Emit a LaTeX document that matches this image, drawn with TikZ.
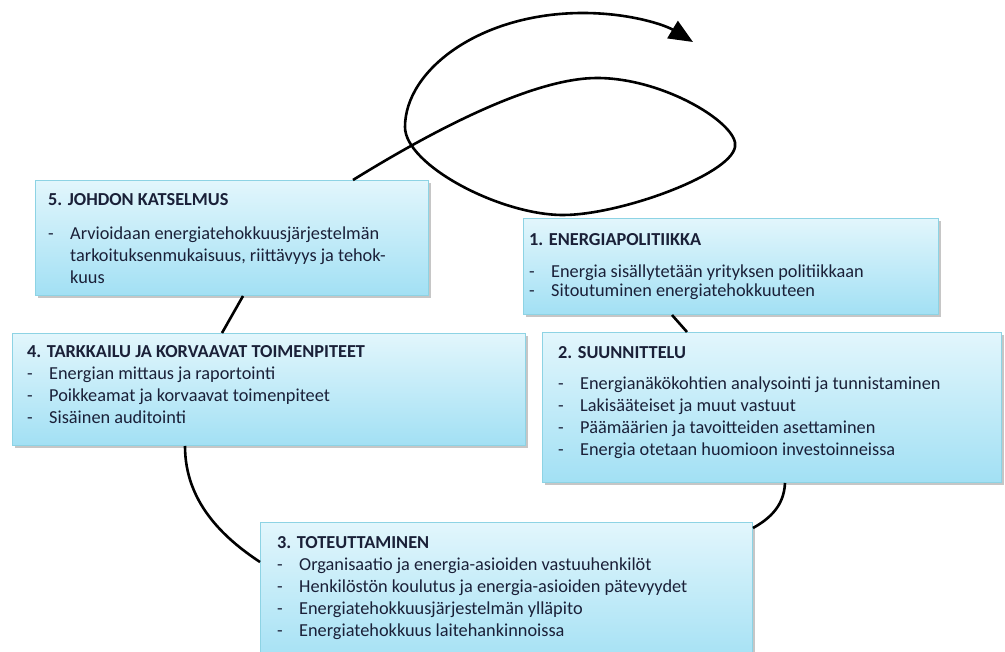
\documentclass[tikz,border=0pt]{standalone}
\usepackage{fontspec}
\setmainfont{Carlito}
\usetikzlibrary{arrows.meta,shadows}

\definecolor{reuna}{HTML}{8DD3E4}
\definecolor{ylavari}{HTML}{E2F6FC}
\definecolor{alavari}{HTML}{A2E0F4}
\definecolor{tekstivari}{HTML}{1A2038}

\tikzset{
  laatikko/.style={draw=reuna, line width=1pt, top color=ylavari, bottom color=alavari,
    drop shadow={opacity=0.45, shadow xshift=2pt, shadow yshift=-3pt},
    anchor=north west, inner sep=0pt},
  teksti/.style={anchor=north west, inner sep=0pt, align=left, text=tekstivari,
    font=\fontsize{18.3}{22}\selectfont},
  kaari/.style={line width=2.6pt, black},
}
\newcommand{\kohta}[1]{\makebox[22pt][l]{-}#1}

\begin{document}
\begin{tikzpicture}[x=1pt,y=-1pt]
\clip (0,0) rectangle (1005,652);
% laatikot
\node[laatikko, minimum width=393pt, minimum height=115pt] (katselmus) at (35,180) {};
\node[laatikko, minimum width=415pt, minimum height=96pt] (politiikka) at (523,218) {};
\node[laatikko, minimum width=513pt, minimum height=112pt] (tarkkailu) at (12,333) {};
\node[laatikko, minimum width=459pt, minimum height=150pt] (suunnittelu) at (542,332) {};
\node[laatikko, minimum width=492pt, minimum height=145pt] (toteuttaminen) at (260,522) {};
% tekstit
\node[teksti] (katselmusteksti) at ([xshift=13pt,yshift=-13pt]katselmus.north west)
  {\textbf{5. JOHDON KATSELMUS}\\[12pt]
   \kohta{Arvioidaan energiatehokkuusjärjestelmän}\\
   \hspace*{22pt}tarkoituksenmukaisuus, riittävyys ja tehok-\\
   \hspace*{22pt}kuus};
\node[teksti, font=\fontsize{18.3}{19}\selectfont] (politiikkateksti) at ([xshift=6pt,yshift=-15pt]politiikka.north west)
  {\textbf{1. ENERGIAPOLITIIKKA}\\[13pt]
   \kohta{Energia sisällytetään yrityksen politiikkaan}\\
   \kohta{Sitoutuminen energiatehokkuuteen}};
\node[teksti] (tarkkailuteksti) at ([xshift=15pt,yshift=-12pt]tarkkailu.north west)
  {\textbf{4. TARKKAILU JA KORVAAVAT TOIMENPITEET}\\
   \kohta{Energian mittaus ja raportointi}\\
   \kohta{Poikkeamat ja korvaavat toimenpiteet}\\
   \kohta{Sisäinen auditointi}};
\node[teksti] (suunnitteluteksti) at ([xshift=16pt,yshift=-14pt]suunnittelu.north west)
  {\textbf{2. SUUNNITTELU}\\[9pt]
   \kohta{Energianäkökohtien analysointi ja tunnistaminen}\\
   \kohta{Lakisääteiset ja muut vastuut}\\
   \kohta{Päämäärien ja tavoitteiden asettaminen}\\
   \kohta{Energia otetaan huomioon investoinneissa}};
\node[teksti] (toteuttaminenteksti) at ([xshift=17pt,yshift=-14pt]toteuttaminen.north west)
  {\textbf{3. TOTEUTTAMINEN}\\
   \kohta{Organisaatio ja energia-asioiden vastuuhenkilöt}\\
   \kohta{Henkilöstön koulutus ja energia-asioiden pätevyydet}\\
   \kohta{Energiatehokkuusjärjestelmän ylläpito}\\
   \kohta{Energiatehokkuus laitehankinnoissa}};
% yhdysviivat
\draw[kaari] ([xshift=149pt]politiikka.south west) -- ([xshift=145pt]suunnittelu.north west);
\draw[kaari] ([xshift=243pt]suunnittelu.south west) .. controls +(-1,22) and +(18,-10) .. ([yshift=-6pt]toteuttaminen.north east);
\draw[kaari] ([xshift=173pt]tarkkailu.south west) .. controls +(0,55) and +(-38,-25) .. ([yshift=-40pt]toteuttaminen.north west);
\draw[kaari] ([xshift=208pt]katselmus.south west) -- ([xshift=210pt]tarkkailu.north west);
% silmukka
\coordinate (karki) at (693,42);
\draw[kaari, -{Triangle[length=24pt,width=20pt]}] ([xshift=318pt]katselmus.north west)
  .. controls (450,120) and (540,78) .. (597,78)
  .. controls (665,78) and (740,125) .. (735,147)
  .. controls (730,175) and (620,215) .. (563,215)
  .. controls (500,215) and (405,165) .. (405,127)
  .. controls (405,70) and (480,13) .. (583,13)
  .. controls (630,13) and (665,25) .. (karki);
\end{tikzpicture}
\end{document}
